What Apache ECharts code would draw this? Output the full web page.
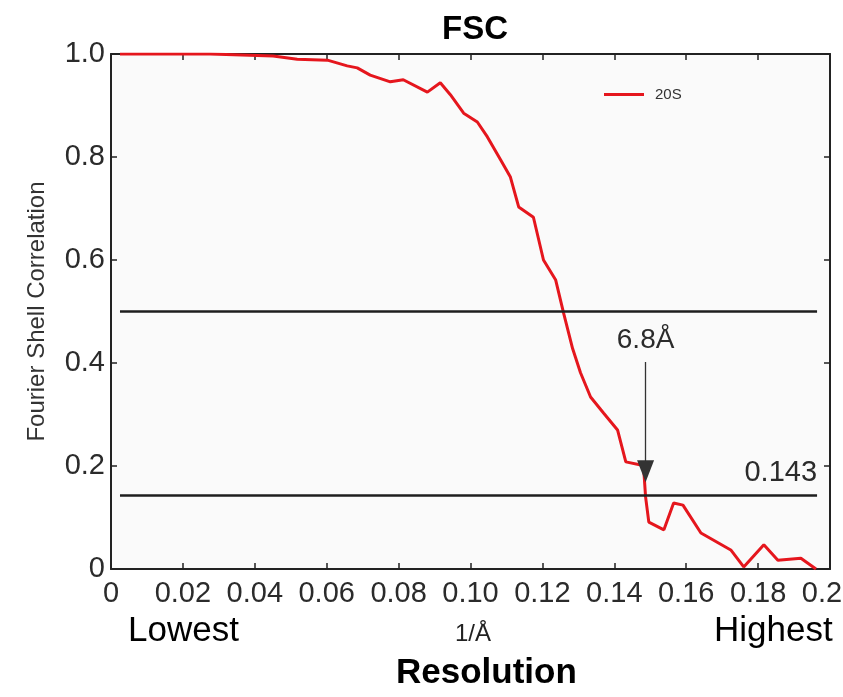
<!DOCTYPE html>
<html>
<head>
<meta charset="utf-8">
<script src="https://cdn.jsdelivr.net/npm/echarts@6/dist/echarts.min.js"></script>
<style>
  html, body { margin: 0; padding: 0; background: #ffffff; }
  #chart { width: 843px; height: 697px; }
</style>
</head>
<body>
<div id="chart"></div>
<script>
// Spatial frequency (1/Å) and Fourier shell correlation of the 20S map
const spatialFreq = [0.0025, 0.0276, 0.0451, 0.0518, 0.0602, 0.0657, 0.0685, 0.0721, 0.0777, 0.0813,
  0.0880, 0.0916, 0.0944, 0.0981, 0.1019, 0.1047, 0.1084, 0.1111, 0.1134, 0.1175,
  0.1203, 0.1237, 0.1259, 0.1284, 0.1306, 0.1334, 0.1370, 0.1409, 0.1432, 0.1474,
  0.1482, 0.1487, 0.1496, 0.1538, 0.1565, 0.1591, 0.1641, 0.1724, 0.1760, 0.1816,
  0.1855, 0.1919, 0.1961];
const fscValues = [1.000, 1.000, 0.996, 0.990, 0.988, 0.977, 0.973, 0.959, 0.946, 0.950,
  0.926, 0.944, 0.921, 0.885, 0.868, 0.839, 0.794, 0.761, 0.703, 0.683,
  0.600, 0.561, 0.497, 0.428, 0.381, 0.334, 0.303, 0.270, 0.208, 0.202,
  0.192, 0.140, 0.091, 0.076, 0.128, 0.124, 0.070, 0.037, 0.004, 0.047,
  0.017, 0.021, 0.000];

// Threshold criteria and the span they are drawn over
const thresholds = [0.5, 0.143];
const thresholdLabels = ['', '0.143'];
const thresholdSpan = [0.0025, 0.1964];

// Resolution marker: frequency, arrow top / tip FSC, label
const markerFreq = 0.1487;
const markerRange = [0.402, 0.19];
const markerLabel = '6.8Å';

const seriesName = '20S';
const xTickLabels = ['0', '0.02', '0.04', '0.06', '0.08', '0.10', '0.12', '0.14', '0.16', '0.18', '0.20'];
const yTickLabels = ['0', '0.2', '0.4', '0.6', '0.8', '1.0'];

const FONT = '"Liberation Sans", Arial, Helvetica, sans-serif';
const INK = '#2b2b2b';

const chart = echarts.init(document.getElementById('chart'));

const curve = spatialFreq.map((x, i) => [x, fscValues[i]]);

const thresholdLines = thresholds.map((t, i) => [
  { coord: [thresholdSpan[0], t] },
  {
    coord: [thresholdSpan[1], t],
    label: {
      show: thresholdLabels[i] !== '',
      formatter: thresholdLabels[i],
      position: 'insideEndTop',
      distance: [0, 8],
      fontFamily: FONT, fontSize: 29, color: INK
    }
  }
]);

// Box frame: every side drawn as an axis line with inward ticks
const frameAxis = {
  axisLine: { show: true, onZero: false, lineStyle: { color: '#222', width: 2 } },
  axisTick: { show: true, inside: true, length: 6, lineStyle: { color: '#222', width: 1.5 } },
  splitLine: { show: false }
};

chart.setOption({
  animation: false,
  backgroundColor: '#ffffff',
  title: {
    text: 'FSC',
    left: 470, top: 8, textAlign: 'center',
    textStyle: { fontFamily: FONT, fontSize: 33, fontWeight: 'bold', color: '#000' }
  },
  legend: {
    data: [{ name: seriesName, icon: 'rect' }],
    left: 599, top: 82,
    itemWidth: 40, itemHeight: 3, itemGap: 10,
    textStyle: { fontFamily: FONT, fontSize: 15, color: '#333', padding: [0, 0, 0, 6] }
  },
  grid: {
    left: 111, right: 13, top: 54, bottom: 128,
    outerBoundsMode: 'none',
    containLabel: false,
    show: true, backgroundColor: '#fafafa', borderWidth: 0
  },
  xAxis: [
    Object.assign({}, frameAxis, {
      type: 'value', min: 0, max: 0.2, interval: 0.02, position: 'bottom',
      axisLabel: {
        margin: 10, fontFamily: FONT, fontSize: 29, color: INK,
        formatter: (v) => xTickLabels[Math.round(v / 0.02)]
      }
    }),
    Object.assign({}, frameAxis, {
      type: 'value', min: 0, max: 0.2, interval: 0.02, position: 'top',
      axisLabel: { show: false }
    })
  ],
  yAxis: [
    Object.assign({}, frameAxis, {
      type: 'value', min: 0, max: 1, interval: 0.2, position: 'left',
      name: 'Fourier Shell Correlation', nameLocation: 'middle', nameGap: 62,
      nameTextStyle: { fontFamily: FONT, fontSize: 24, color: '#333' },
      axisLabel: {
        margin: 6, fontFamily: FONT, fontSize: 29, color: INK,
        formatter: (v) => yTickLabels[Math.round(v / 0.2)]
      }
    }),
    Object.assign({}, frameAxis, {
      type: 'value', min: 0, max: 1, interval: 0.2, position: 'right',
      axisLabel: { show: false }
    })
  ],
  series: [
    {
      name: seriesName,
      type: 'line',
      data: curve,
      showSymbol: false,
      symbol: 'none',
      lineStyle: { color: '#e5161d', width: 3 },
      itemStyle: { color: '#e5161d' },
      z: 3,
      markLine: {
        silent: true,
        symbol: ['none', 'none'],
        lineStyle: { color: '#1e1e1e', width: 2.5, type: 'solid' },
        data: thresholdLines
      }
    },
    {
      name: 'marker',
      type: 'line',
      data: [],
      z: 4,
      markLine: {
        silent: true,
        symbol: ['none', 'triangle'],
        symbolSize: [17, 22],
        lineStyle: { color: '#333', width: 1.3, type: 'solid' },
        itemStyle: { color: '#000' },
        label: {
          show: true, position: 'start', distance: 8,
          formatter: markerLabel,
          fontFamily: FONT, fontSize: 28, color: INK
        },
        data: [[
          { coord: [markerFreq, markerRange[0]] },
          { coord: [markerFreq, markerRange[1]] }
        ]]
      }
    }
  ],
  graphic: [
    { type: 'text', left: 128, top: 614, style: { text: 'Lowest', font: '35px ' + FONT, fill: '#000' } },
    { type: 'text', left: 455, top: 622, style: { text: '1/Å', font: '24px ' + FONT, fill: '#222' } },
    { type: 'text', left: 714, top: 614, style: { text: 'Highest', font: '35px ' + FONT, fill: '#000' } },
    { type: 'text', left: 396, top: 656, style: { text: 'Resolution', font: 'bold 35px ' + FONT, fill: '#000' } }
  ]
});
</script>
</body>
</html>
